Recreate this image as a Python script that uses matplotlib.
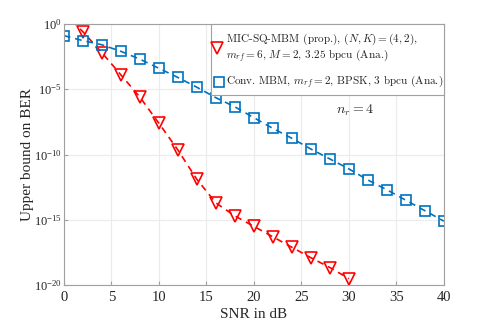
import numpy as np
import matplotlib
matplotlib.use("Agg")
import matplotlib.pyplot as plt
from matplotlib.ticker import FixedLocator, FuncFormatter
from matplotlib.patches import Rectangle

plt.rcParams['font.family'] = ['Liberation Serif']
plt.rcParams['mathtext.fontset'] = 'cm'

snr_prop = [2, 4, 6, 8, 10, 12, 14, 16, 18, 20, 22, 24, 26, 28, 30]
log_ber_prop = [-0.6, -2.2, -3.9, -5.6, -7.6, -9.65, -11.9, -13.7, -14.7, -15.5,
                -16.3, -17.1, -17.9, -18.65, -19.5]
snr_line_prop = [0] + snr_prop
log_ber_line_prop = [0.9] + log_ber_prop

snr_conv = [0, 2, 4, 6, 8, 10, 12, 14, 16, 18, 20, 22, 24, 26, 28, 30, 32, 34, 36, 38, 40]
log_ber_conv = [-0.9, -1.28, -1.6, -2.1, -2.7, -3.4, -4.1, -4.85, -5.65, -6.35, -7.18,
                -8.0, -8.76, -9.58, -10.34, -11.1, -11.95, -12.7, -13.5, -14.3, -15.1]

label_prop_1 = "MIC-SQ-MBM (prop.), $(N,K)=(4,2)$,"
label_prop_2 = "$m_{rf}=6$, $M=2$, 3.25 bpcu (Ana.)"
label_conv = "Conv. MBM, $m_{rf}=2$, BPSK, 3 bpcu (Ana.)"

red = '#FF0000'
blue = '#0072BD'
txt = '#262626'
edge = '#A0A0A0'

fig = plt.figure(figsize=(4.91, 3.27), dpi=100)
ax = fig.add_axes([0.130, 0.128, 0.774, 0.799])

ber_prop = 10.0 ** np.array(log_ber_prop)
ber_conv = 10.0 ** np.array(log_ber_conv)

ax.plot(snr_line_prop, 10.0 ** np.array(log_ber_line_prop), color=red, ls=(0, (4, 3)), lw=1.2)
ax.plot(snr_prop, ber_prop, ls='none', marker='v', ms=8, mfc='none', mec=red, mew=1.2)
ax.plot(snr_conv, ber_conv, color=blue, ls=(0, (4, 3)), lw=1.2)
ax.plot(snr_conv, ber_conv, ls='none', marker='s', ms=6.5, mfc='none', mec=blue, mew=1.2)

ax.set_yscale('log')
ax.set_xlim(0, 40)
ax.set_ylim(1e-20, 1)
ax.xaxis.set_major_locator(FixedLocator([0, 5, 10, 15, 20, 25, 30, 35, 40]))
ax.yaxis.set_major_locator(FixedLocator([1e-20, 1e-15, 1e-10, 1e-5, 1]))
ax.yaxis.set_minor_locator(FixedLocator([]))
ax.yaxis.set_major_formatter(FuncFormatter(lambda v, p: r'$\mathregular{10^{%d}}$' % round(np.log10(v))))

ax.grid(True, color='#EBEBEB', lw=0.8)
ax.set_axisbelow(True)
for s in ax.spines.values():
    s.set_color(edge)
    s.set_linewidth(0.8)
ax.tick_params(direction='in', length=3, color=edge, labelcolor=txt)
ax.tick_params(axis='x', labelsize=10.5, pad=4)
ax.tick_params(axis='y', labelsize=9, pad=1.5)

ax.set_xlabel('SNR in dB', fontsize=11, color=txt, labelpad=3)
ax.set_ylabel('Upper bound on BER', fontsize=11, color=txt, labelpad=0)

# legend box drawn by hand (axes fractions)
tr = ax.transAxes
ax.add_patch(Rectangle((0.387, 0.728), 0.613, 0.272, transform=tr, facecolor='white',
                       edgecolor=edge, lw=0.8, zorder=5, clip_on=False))
lkw = dict(transform=tr, fontsize=8.05, fontfamily='cmr10', color=txt, va='center',
           ha='left', zorder=6)
ax.text(0.426, 0.942, label_prop_1, **lkw)
ax.text(0.426, 0.880, label_prop_2, **lkw)
ax.text(0.426, 0.778, label_conv, **lkw)
ax.plot([0.403], [0.907], transform=tr, ls='none', marker='v', ms=8, mfc='none',
        mec=red, mew=1.2, zorder=7, clip_on=False)
ax.plot([0.408], [0.778], transform=tr, ls='none', marker='s', ms=6.5, mfc='none',
        mec=blue, mew=1.2, zorder=7, clip_on=False)

ax.text(30.6, 10 ** -6.6, '$n_r=4$', fontsize=10, ha='center', va='center', color=txt)

fig.savefig('out.png', dpi=100)
